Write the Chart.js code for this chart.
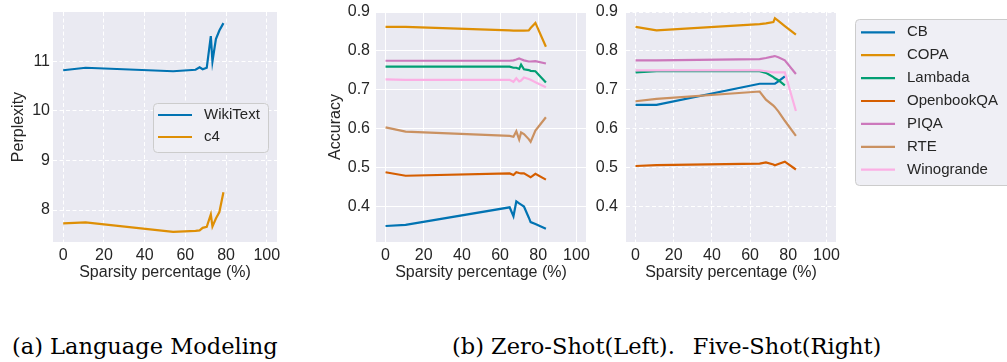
<!DOCTYPE html>
<html>
<head>
<meta charset="utf-8">
<script src="https://cdn.jsdelivr.net/npm/chart.js@4.4.1/dist/chart.umd.min.js"></script>
<style>
  html, body { margin: 0; padding: 0; background: #fff; }
  #wrap { position: relative; width: 1007px; height: 362px; overflow: hidden; }
  canvas { position: absolute; top: 0; }
  .cap { position: absolute; font-family: "DejaVu Serif", serif; font-size: 22.5px; line-height: 1; color: #000; white-space: pre; }
  .cap span { margin-left: 18px; }
</style>
</head>
<body>
<div id="wrap">
  <canvas id="lm" width="290" height="288" style="left:0"></canvas>
  <canvas id="zero" width="300" height="288" style="left:300px"></canvas>
  <canvas id="five" width="417" height="288" style="left:590px"></canvas>
  <div class="cap" style="left:12px; top:335px">(a) Language Modeling</div>
  <div class="cap" style="left:452px; top:335px">(b) Zero-Shot(Left).<span>Five-Shot(Right)</span></div>
</div>
<script>
// language modeling perplexity vs sparsity
const lmSparsity = [0, 11, 54, 65, 67, 68.5, 70.5, 72.5, 73.3, 75, 76.7, 78.7];
const wikiText   = [10.82, 10.87, 10.80, 10.83, 10.88, 10.84, 10.87, 11.51, 11.00, 11.45, 11.62, 11.77];
const c4         = [7.73, 7.75, 7.56, 7.58, 7.59, 7.64, 7.66, 7.91, 7.67, 7.83, 7.96, 8.36];

const tasks   = ['CB', 'COPA', 'Lambada', 'OpenbookQA', 'PIQA', 'RTE', 'Winogrande'];
const palette = ['#0173B2', '#DE8F05', '#029E73', '#D55E00', '#CC78BC', '#CA9161', '#FBAFE4'];

// zero-shot accuracy, one row per task
const zeroSparsity = [0, 10.5, 65, 67, 68.5, 70, 71, 72.5, 75, 76, 78.5, 84];
const zeroShot = [
  [0.351, 0.354, 0.399, 0.376, 0.414, 0.409, 0.406, 0.401, 0.373, 0.361, 0.356, 0.344], // CB
  [0.862, 0.862, 0.853, 0.852, 0.852, 0.852, 0.852, 0.852, 0.853, 0.859, 0.872, 0.811], // COPA
  [0.760, 0.760, 0.760, 0.757, 0.757, 0.754, 0.765, 0.753, 0.751, 0.749, 0.748, 0.719], // Lambada
  [0.489, 0.480, 0.486, 0.482, 0.489, 0.487, 0.486, 0.486, 0.479, 0.476, 0.485, 0.470], // OpenbookQA
  [0.775, 0.775, 0.775, 0.776, 0.778, 0.781, 0.779, 0.776, 0.773, 0.773, 0.774, 0.768], // PIQA
  [0.604, 0.593, 0.582, 0.580, 0.594, 0.573, 0.591, 0.587, 0.574, 0.567, 0.596, 0.630], // RTE
  [0.727, 0.726, 0.726, 0.721, 0.730, 0.722, 0.724, 0.732, 0.728, 0.726, 0.720, 0.707]  // Winogrande
];

// five-shot accuracy (CB and Lambada stop before the last level)
const fiveSparsity = [0, 11, 65, 68.3, 72.2, 73, 74.8, 78.2, 84];
const fiveShot = [
  [0.662, 0.662, 0.716, 0.716, 0.716, 0.716, 0.722, 0.735, null],  // CB
  [0.862, 0.853, 0.869, 0.871, 0.874, 0.884, 0.877, 0.864, 0.842], // COPA
  [0.745, 0.748, 0.748, 0.744, 0.733, 0.730, 0.725, 0.712, null],  // Lambada
  [0.505, 0.507, 0.511, 0.514, 0.509, 0.507, 0.510, 0.516, 0.496], // OpenbookQA
  [0.776, 0.776, 0.779, 0.782, 0.786, 0.787, 0.784, 0.776, 0.741], // PIQA
  [0.671, 0.677, 0.696, 0.675, 0.660, 0.656, 0.645, 0.621, 0.582], // RTE
  [0.750, 0.750, 0.750, 0.748, 0.745, 0.745, 0.745, 0.745, 0.646]  // Winogrande
];

const xTicks   = [0, 20, 40, 60, 80, 100];
const lmTicks  = [8, 9, 10, 11];
const accTicks = [0.4, 0.5, 0.6, 0.7, 0.8, 0.9];

const INK = '#262626';
const LINE_W = 2.2;
Chart.defaults.font.family = '"Liberation Sans", Arial, sans-serif';
Chart.defaults.font.size = 16;
Chart.defaults.color = INK;

const toPoints = (xs, ys) => xs.map((x, i) => ({ x: x, y: ys[i] }));

// grey panel behind the grid
const plotBackground = {
  id: 'plotBackground',
  beforeDraw(chart) {
    const { ctx, chartArea: a } = chart;
    ctx.save();
    ctx.fillStyle = '#EAEAF2';
    ctx.fillRect(a.left, a.top, a.width, a.height);
    ctx.restore();
  }
};

// framed legend box drawn at a fixed spot
const boxLegend = {
  id: 'boxLegend',
  afterDraw(chart, args, opts) {
    if (!opts || !opts.w) return;
    const ctx = chart.ctx;
    ctx.save();
    ctx.beginPath();
    ctx.roundRect(opts.x + 0.5, opts.y + 0.5, opts.w, opts.h, 4);
    ctx.fillStyle = '#EFEFF5';
    ctx.fill();
    ctx.strokeStyle = '#CCCCCC';
    ctx.lineWidth = 1;
    ctx.stroke();
    ctx.font = '15px "Liberation Sans", Arial, sans-serif';
    ctx.textBaseline = 'middle';
    chart.data.datasets.forEach((ds, i) => {
      const y = opts.firstRow + i * opts.rowGap;
      ctx.strokeStyle = ds.borderColor;
      ctx.lineWidth = LINE_W;
      ctx.beginPath();
      ctx.moveTo(opts.sampleX, y);
      ctx.lineTo(opts.sampleX + 34, y);
      ctx.stroke();
      ctx.fillStyle = INK;
      ctx.fillText(ds.label, opts.sampleX + 46, y);
    });
    ctx.restore();
  }
};

function lineSet(label, color, xs, ys, i) {
  return {
    label: label,
    data: toPoints(xs, ys),
    borderColor: color,
    backgroundColor: color,
    borderWidth: LINE_W,
    pointRadius: 0,
    tension: 0,
    spanGaps: false,
    order: -i
  };
}

function scales(cfg) {
  const dash = cfg.dashed ? [4, 2.5] : [];
  return {
    x: {
      type: 'linear', min: -5, max: 105,
      grid: { color: '#FFFFFF', lineWidth: 1, drawTicks: false },
      border: { display: false, dash: dash },
      ticks: { padding: 4, callback: v => String(v) },
      title: { display: true, text: 'Sparsity percentage (%)', padding: { top: 0, bottom: 5.4 } },
      afterBuildTicks: s => { s.ticks = xTicks.map(v => ({ value: v })); },
      afterFit: s => { s.height = 46; s.paddingLeft = 0; s.paddingRight = 0; }
    },
    y: {
      type: 'linear', min: cfg.ymin, max: cfg.ymax,
      grid: { color: '#FFFFFF', lineWidth: 1, drawTicks: false },
      border: { display: false, dash: dash },
      ticks: { padding: cfg.tickPad, callback: cfg.fmt },
      title: { display: !!cfg.title, text: cfg.title || '', padding: { top: cfg.titlePad || 0, bottom: 0 } },
      afterBuildTicks: s => { s.ticks = cfg.ticks.map(v => ({ value: v })); },
      afterFit: s => { s.width = cfg.yWidth; s.paddingTop = 0; s.paddingBottom = 0; }
    }
  };
}

function makeChart(id, datasets, scaleCfg, rightPad, legendOpts) {
  return new Chart(document.getElementById(id), {
    type: 'line',
    data: { datasets: datasets },
    options: {
      responsive: false,
      animation: false,
      devicePixelRatio: 1,
      layout: { padding: { top: 12, right: rightPad, bottom: 0, left: 0 } },
      scales: scales(scaleCfg),
      plugins: {
        legend: { display: false },
        tooltip: { enabled: false },
        boxLegend: legendOpts || {}
      }
    },
    plugins: [plotBackground, boxLegend]
  });
}

// (a) perplexity
makeChart('lm', [
  lineSet('WikiText', palette[0], lmSparsity, wikiText, 0),
  lineSet('c4', palette[1], lmSparsity, c4, 1)
], {
  ymin: 7.355, ymax: 11.995, ticks: lmTicks, fmt: v => String(v),
  yWidth: 53, tickPad: 3, title: 'Perplexity', titlePad: 8.7, dashed: true
}, 13, { x: 153, y: 103, w: 115, h: 49, sampleX: 158, firstRow: 115, rowGap: 22 });

// (b) zero-shot
makeChart('zero', tasks.map((t, i) => lineSet(t, palette[i], zeroSparsity, zeroShot[i], i)), {
  ymin: 0.31, ymax: 0.9, ticks: accTicks, fmt: v => v.toFixed(1),
  yWidth: 76, tickPad: 6, title: 'Accuracy', titlePad: 26.4, dashed: false
}, 14);

// (b) five-shot, with the shared task legend on the right
makeChart('five', tasks.map((t, i) => lineSet(t, palette[i], fiveSparsity, fiveShot[i], i)), {
  ymin: 0.31, ymax: 0.9, ticks: accTicks, fmt: v => v.toFixed(1),
  yWidth: 36, tickPad: 8, title: '', dashed: true
}, 171, { x: 265, y: 19, w: 170, h: 166, sampleX: 271, firstRow: 32.3, rowGap: 22.9 });
</script>
</body>
</html>
